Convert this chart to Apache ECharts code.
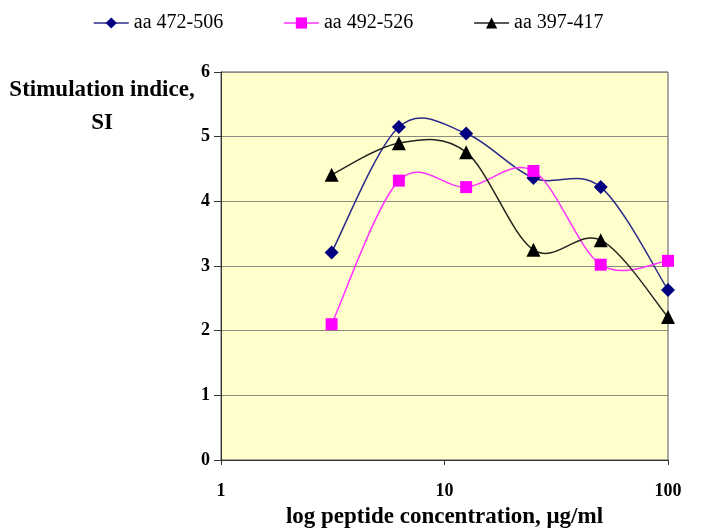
<!DOCTYPE html>
<html>
<head>
<meta charset="utf-8">
<script src="https://cdn.jsdelivr.net/npm/echarts@6/dist/echarts.min.js"></script>
<style>html,body{margin:0;padding:0;background:#fff}#c{width:709px;height:530px}</style>
</head>
<body>
<div id="c"></div>
<script>
var concentrations = [3.125, 6.25, 12.5, 25, 50, 100];
var seriesNames = ['aa 472-506', 'aa 492-526', 'aa 397-417'];
var s472 = [3.21, 5.15, 5.05, 4.36, 4.22, 2.63];
var s492 = [2.10, 4.32, 4.22, 4.47, 3.02, 3.08];
var s397 = [4.41, 4.90, 4.76, 3.25, 3.40, 2.21];
var yTicks = [0, 1, 2, 3, 4, 5, 6];

var lineColors = ['#2a2a8a', '#FF33FF', '#222222'];
var markColors = ['#000080', '#FF00FF', '#000000'];

function pairs(vals){ return concentrations.map(function(c,i){ return [c, vals[i]]; }); }

// Excel-like smoothed curve (Catmull-Rom) drawn through the chart's own coordinate conversion
function smoothRender(vals, color){
  return function(params, api){
    var pts = concentrations.map(function(c, i){ return api.coord([c, vals[i]]); });
    var n = pts.length;
    var d = 'M' + pts[0][0] + ' ' + pts[0][1];
    for (var i = 0; i < n - 1; i++) {
      var p0 = pts[Math.max(i - 1, 0)], p1 = pts[i], p2 = pts[i + 1], p3 = pts[Math.min(i + 2, n - 1)];
      var c1x = p1[0] + (p2[0] - p0[0]) / 6, c1y = p1[1] + (p2[1] - p0[1]) / 6;
      var c2x = p2[0] - (p3[0] - p1[0]) / 6, c2y = p2[1] - (p3[1] - p1[1]) / 6;
      d += ' C' + c1x + ' ' + c1y + ' ' + c2x + ' ' + c2y + ' ' + p2[0] + ' ' + p2[1];
    }
    return {type: 'path', shape: {pathData: d}, style: {stroke: color, fill: 'none', lineWidth: 1.5}, silent: true};
  };
}

var allVals = [s472, s492, s397];
var symbols = ['diamond', 'rect', 'triangle'];
var symSizes = [14, 12, 14];

var series = [];
allVals.forEach(function(vals, k){
  series.push({name: seriesNames[k], type: 'line', data: pairs(vals), z: 3,
    symbol: symbols[k], symbolSize: symSizes[k], color: markColors[k],
    lineStyle: {color: lineColors[k], width: 1.5, opacity: 0}, itemStyle: {color: markColors[k]}});
});
allVals.forEach(function(vals, k){
  series.push({type: 'custom', name: seriesNames[k], coordinateSystem: 'cartesian2d',
    data: [[concentrations[0], vals[0]]], renderItem: smoothRender(vals, lineColors[k]), z: 2, clip: false});
});

var chart = echarts.init(document.getElementById('c'));
var font = '"Liberation Serif","Times New Roman",serif';
chart.setOption({
  animation: false,
  textStyle: {fontFamily: font},
  legend: {
    top: 8, left: 88, itemWidth: 35, itemHeight: 14, itemGap: 60,
    textStyle: {fontFamily: font, fontSize: 20, color: '#000'},
    data: seriesNames.map(function(nm, k){
      return {name: nm, itemStyle: {color: markColors[k]},
        lineStyle: {color: lineColors[k], width: 1.5, opacity: 1}};
    })
  },
  graphic: [{
    type: 'text', left: 9, top: 74,
    style: {text: 'Stimulation indice,\nSI', font: 'bold 23px "Liberation Serif", serif', fill: '#000', textAlign: 'center', lineHeight: 33, width: 186, align: 'center'}
  }],
  grid: {left: 221, right: 41, top: 72, bottom: 70, show: true, backgroundColor: '#FFFFCC', borderColor: '#555', borderWidth: 1, containLabel: false, outerBoundsMode: 'none'},
  xAxis: {
    type: 'log', logBase: 10, min: 1, max: 100,
    name: 'log peptide concentration, \u03bcg/ml', nameLocation: 'middle', nameGap: 46,
    nameTextStyle: {fontFamily: font, fontSize: 23, fontWeight: 'bold', color: '#000'},
    axisLine: {onZero: false, lineStyle: {color: '#333', width: 1}},
    axisTick: {show: true, length: 5, lineStyle: {color: '#333'}},
    minorTick: {show: false},
    splitLine: {show: false},
    axisLabel: {fontFamily: font, fontSize: 18, fontWeight: 'bold', color: '#000', margin: 22}
  },
  yAxis: {
    type: 'value', min: 0, max: 6, interval: 1,
    axisLine: {show: true, lineStyle: {color: '#333'}},
    axisTick: {show: true, length: 7, lineStyle: {color: '#333'}},
    splitLine: {show: true, lineStyle: {color: '#8a8a80', width: 1}},
    axisLabel: {fontFamily: font, fontSize: 18, fontWeight: 'bold', color: '#000', margin: 11,
      formatter: function(v){ return yTicks.indexOf(v) >= 0 ? String(v) : ''; }}
  },
  series: series
});
</script>
</body>
</html>
